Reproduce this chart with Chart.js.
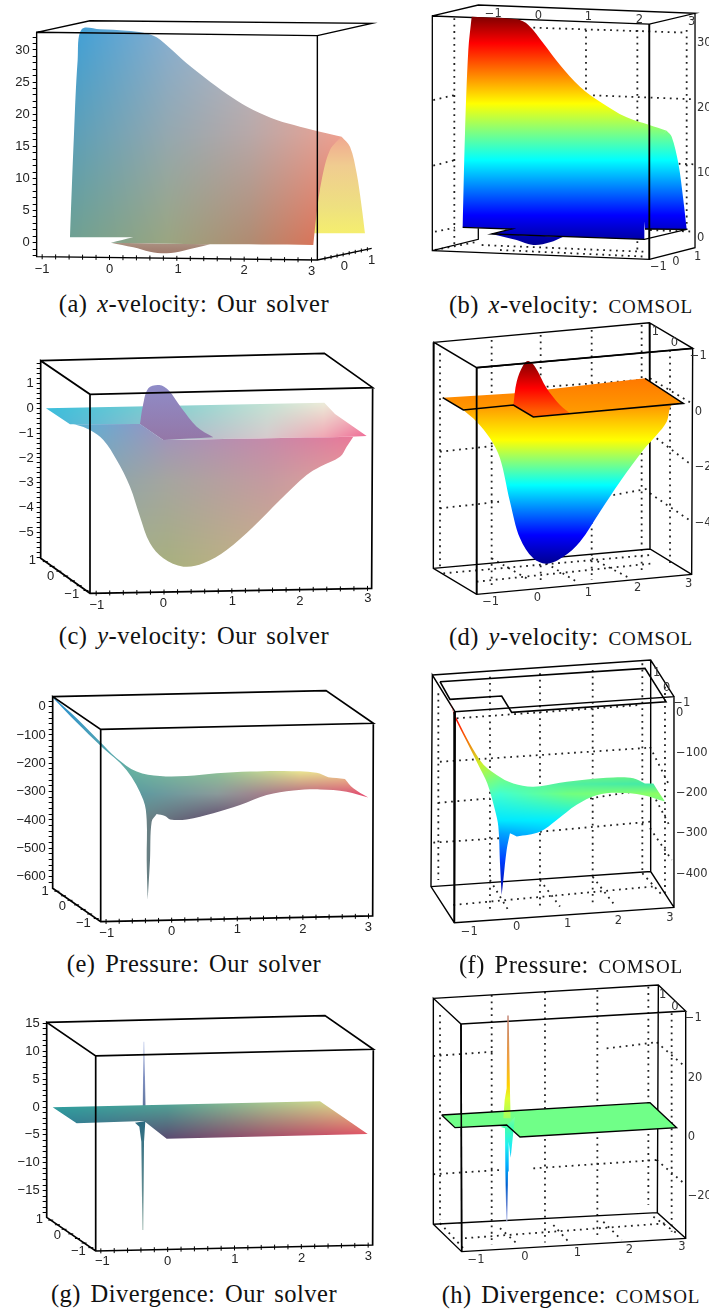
<!DOCTYPE html>
<html>
<head>
<meta charset="utf-8">
<script src="https://cdn.jsdelivr.net/npm/chart.js@4/dist/chart.umd.min.js"></script>
<style>
  body { margin: 0; background: #fff; width: 709px; height: 1311px; overflow: hidden; position: relative; }
  canvas { position: absolute; }
  .cap {
    position: absolute; transform: translateX(-50%); white-space: nowrap; color: #111;
    font-family: "Liberation Serif", serif; font-size: 24.5px; line-height: 26px; word-spacing: 3px; letter-spacing: 0.5px;
  }
  .sc { font-variant: all-small-caps; font-size: 27px; letter-spacing: 0.9px; }
</style>
</head>
<body>
<canvas id="chartA"></canvas><canvas id="chartB"></canvas>
<canvas id="chartC"></canvas><canvas id="chartD"></canvas>
<canvas id="chartE"></canvas><canvas id="chartF"></canvas>
<canvas id="chartG"></canvas><canvas id="chartH"></canvas>
<div class="cap" style="left:194px;top:291px">(a) <i>x</i>-velocity: Our solver</div>
<div class="cap" style="left:571px;top:291px">(b) <i>x</i>-velocity: <span class="sc">COMSOL</span></div>
<div class="cap" style="left:194px;top:623px">(c) <i>y</i>-velocity: Our solver</div>
<div class="cap" style="left:571px;top:623px">(d) <i>y</i>-velocity: <span class="sc">COMSOL</span></div>
<div class="cap" style="left:194px;top:951px">(e) Pressure: Our solver</div>
<div class="cap" style="left:571px;top:951px">(f) Pressure: <span class="sc">COMSOL</span></div>
<div class="cap" style="left:194px;top:1281px">(g) Divergence: Our solver</div>
<div class="cap" style="left:571px;top:1281px">(h) Divergence: <span class="sc">COMSOL</span></div>
<script>
// values, x = projected x unit, y = value on the panel's vertical axis

// (a) x-velocity, our solver
const aSheetX = [-0.587,-0.527,-0.473,-0.413,-0.141,0.255,0.502,0.7,0.899,1.146,1.493,1.839,2.136,2.483,2.829,3.126,3.448,3.275,3.151,3.077,3.027,1.493,0.022,0.354,-0.587];
const aSheetY = [0.93,17.02,28.44,33.21,33.21,33,32.69,31.97,30.25,27.92,25.06,22.47,20.65,19.1,18.06,17.28,16.5,14.43,9.76,4.57,-0.36,-0.26,0,0.83,0.83];
const aEndX = [3.448,3.572,3.671,3.745,3.794,3,3.05,3.15,3.27];
const aEndY = [16.5,14.95,10.79,5.6,1.45,1.45,5.6,11.83,14.95];
const aBumpX = [0.022,0.354,0.601,0.849,1.097,1.493];
const aBumpY = [0,-0.73,-1.4,-1.66,-1.25,-0.26];
const aBoxX = [-1.082,-0.29,3.894,3.087,-1.082,-1.082,3.087,3.087,null,3.087,3.894];
const aBoxY = [32.75,34.56,34.15,32.23,32.75,-2.18,-2.7,32.23,null,-2.7,-0.88];
const aYMajor = [0,5,10,15,20,25,30];
const aLabelX = [-1,0,1.02,2,3,3.487,3.893];
const aLabelY = [-4.15,-4.15,-4.15,-4.36,-4.51,-3.63,-2.7];
const aLabelText = ["−1","0","1","2","3","0","1"];

// (b) x-velocity, COMSOL
const bSheetX = [-1.557,-1.51,-1.443,-1.376,-0.47,-0.235,0.067,0.403,0.805,1.208,1.745,2.201,2.55,2.383,2.215,2.114,2.101,-0.973,-0.57];
const bSheetY = [1.64,16.13,28.97,34.1,33.69,32.82,29.99,26.66,23.32,21.01,18.59,17.41,16.54,15.1,9.96,5.86,-0.21,0.62,1.39];
const bEndX = [2.55,2.651,2.785,2.886,2.953,2.114,2.05,2.1,2.3];
const bEndY = [16.54,15.61,11.5,5.86,1.34,1.39,5.86,9.96,15.1];
const bBumpX = [-0.973,-0.47,-0.134,0.201,0.47];
const bBumpY = [0.62,-0.31,-1.08,-0.67,0.21];
const bEdgeX = [-1.557,-0.57,-0.973,2.101,2.953,null,2.114,2.953];
const bEdgeY = [1.64,1.39,0.62,-0.21,1.34,null,1.39,1.34];
const bBoxX = [-2.168,-1.242,3.121,2.201,-2.168,-2.168,2.201,2.201,null,2.201,3.121,3.121,null,-2.168,-1.242,-1.242];
const bBoxY = [34.21,35.9,34.62,32.97,34.21,-1.95,-3.29,32.97,null,-3.29,-1.49,34.62,null,-1.95,-0.21,1.49];
const bGridX = [-1.725,-1.725,null,0.926,0.926,null,1.96,1.96,null,-0.134,2.953,null,-2.148,-1.711,null,-2.148,-1.711,null,-2.114,-1.711,null,0.94,3.087,null,2.148,3.121,null,2.215,3.087,null,2.953,2.953,null,-2.114,-1.242,null,-1.174,2.081,null,-0.805,2.148];
const bGridY = [33.85,-1.34,null,32.05,-0.31,null,32.05,-2.36,null,32.41,31.64,null,21.26,22.03,null,11.15,12.02,null,0.98,1.59,null,22.03,21.37,null,11.61,11.35,null,1.23,0.98,null,32.05,1.23,null,-1.85,-0.56,null,-1.08,-2.11,null,-1.85,-2.88];
const bYMajor = [0,10,20,30];
const bLabelX = [-0.94,-0.034,0.973,2,3.054,2.383,2.738,3.174];
const bLabelY = [34.5,34.26,34.1,33.59,33.33,-4.42,-3.75,-2.98];
const bLabelText = ["−1","0","1","2","3","−1","0","1"];

// (c) y-velocity, our solver
const cPlaneX = [-1.74,2.364,2.521,2.988,2.742,-0.01,-0.354,-1.386];
const cPlaneY = [0,0.228,-0.228,-1.114,-1.141,-1.275,-0.631,-0.644];
const cBumpX = [-0.354,-0.314,-0.231,-0.069,0.064,0.26,0.482,0.727,-0.01];
const cBumpY = [-0.631,0.067,0.805,0.94,0.738,0,-0.738,-1.168,-1.275];
const cLobeX = [-1.386,-1.287,-1.091,-0.894,-0.698,-0.501,-0.354,-0.206,-0.01,0.285,0.58,0.924,1.317,1.71,2.103,2.3,2.595,2.693,2.791,-0.01,-0.354];
const cLobeY = [-0.644,-0.671,-0.872,-1.275,-2.081,-3.154,-4.362,-5.436,-6.04,-6.376,-6.242,-5.705,-4.765,-3.691,-2.685,-2.349,-1.946,-1.544,-1.141,-1.275,-0.631];
const cBoxX = [-1.818,2.364,3.076,-1.091,-1.818,-1.818,-1.091,3.061,3.076,null,-1.091,-1.091];
const cBoxY = [1.919,2.215,0.832,0.564,1.919,-6.04,-7.45,-7.25,0.832,null,0.564,-7.45];
const cYMajor = [1,0,-1,-2,-3,-4,-5];
const cLabelX = [-0.99,-0.01,1.007,2.004,3.007,-1.94,-1.67,-1.36];
const cLabelY = [-7.92,-7.85,-7.79,-7.76,-7.65,-6.13,-6.78,-7.48];
const cLabelText = ["−1","0","1","2","3","1","0","−1"];

// (d) y-velocity, COMSOL
const dPlaneX = [-1.946,-0.49,2.128,2.899,-0.121,-0.523,-1.53];
const dPlaneY = [0.504,0.659,1.199,0.3,-0.192,0.24,0.06];
const dBumpX = [-0.523,-0.456,-0.322,-0.221,-0.087,0.148,0.416,0.617,-0.121];
const dBumpY = [0.24,1.079,1.679,1.823,1.619,0.839,0.24,-0.06,-0.192];
const dLobeX = [-1.53,-1.262,-0.993,-0.792,-0.591,-0.389,-0.121,0.148,0.483,0.819,1.221,1.624,2.094,2.362,2.564,2.664,2.899,-0.121,-0.523];
const dLobeY = [0.06,-0.36,-0.959,-1.679,-3.237,-4.556,-5.276,-5.468,-5.216,-4.676,-3.597,-2.518,-1.379,-0.839,-0.36,0.24,0.3,-0.192,0.24];
const dEdgeX = [-1.946,-1.53,-0.523,-0.121,2.899,2.128];
const dEdgeY = [0.504,0.06,0.24,-0.192,0.3,1.199];
const dBoxX = [-2.121,2.215,3.087,-1.262,-2.121,-2.134,-1.262,3.067,3.087,null,-1.262,-1.262,null,-2.134,2.228,3.067,null,2.215,2.228];
const dBoxY = [2.494,3.201,2.278,1.583,2.494,-5.635,-6.571,-5.851,2.278,null,1.583,-6.571,null,-5.635,-4.94,-5.851,null,3.201,-4.94];
const dGridX = [-2,-2,null,-0.96,-0.96,null,0.027,0.027,null,1.054,1.054,null,2.06,2.06,null,2.631,2.631,null,-2,-0.859,null,-2,-0.792,null,0.148,2.027,null,2.228,3.067,null,2.362,3.067,null,1.49,2.228,null,2.228,3.067,null,-1.933,2.228,null,-1.262,2.295,null,-0.96,-0.255,null,0.027,0.752,null,1.054,1.826];
const dGridY = [2.098,-5.695,null,2.578,-6.355,null,2.758,-6.115,null,2.938,-6.055,null,3.118,-5.815,null,2.218,-5.576,null,-1.439,-1.223,null,-3.477,-3.237,null,0.899,1.139,null,1.199,0.3,null,-0.959,-1.918,null,-2.998,-2.758,null,-2.938,-3.957,null,-5.815,-5.156,null,-6.115,-5.456,null,-5.276,-5.995,null,-5.336,-6.115,null,-5.276,-5.995];
const dYMajor = [0,-2,-4];
const dLabelX = [-0.98,-0.04,0.987,1.98,3.007,2.336,2.718,3.2];
const dLabelY = [-6.835,-6.691,-6.511,-6.355,-6.187,2.854,2.458,2.018];
const dLabelText = ["−1","0","1","2","3","1","0","−1"];

// (e) pressure, our solver
const eSurfX = [-1.804,-1.448,-1.092,-0.838,-0.534,-0.178,0.229,0.686,1.194,1.702,2.21,2.388,2.642,2.769,2.998,2.668,2.261,1.855,1.448,1.042,0.635,0.229,-0.025,-0.102,-0.229,-0.305,-0.33,-0.366,-0.381,-0.381,-0.432,-0.686,-1.092,-1.448,-1.804];
const eSurfY = [33,-41,-124,-182,-229,-245,-245,-235,-229,-227,-233,-249,-255,-288,-321,-300,-292,-296,-312,-347,-376,-398,-398,-386,-379,-406,-541,-682,-541,-400,-329,-224,-136,-56,30];
const eBoxX = [-1.814,2.353,3.074,-1.082,-1.814,-1.814,-1.082,3.064,3.074,null,-1.082,-1.082];
const eBoxY = [35.3,56.5,-58.8,-80,35.3,-641.2,-758.8,-738.8,-58.8,null,-80,-758.8];
const eYMajor = [0,-100,-200,-300,-400,-500,-600];
const eLabelX = [-0.99,0,1,2,3,-1.931,-1.667,-1.346];
const eLabelY = [-800,-794,-788,-786,-779,-653,-704,-765];
const eLabelText = ["−1","0","1","2","3","1","0","−1"];

// (f) pressure, COMSOL
const fSurfX = [-1.367,-1.267,-0.767,-0.433,-0.1,0.3,0.833,1.367,1.9,2.3,2.533,2.7,2.8,2.933,2.5,1.967,1.567,1.167,0.767,0.433,-0.033,-0.167,-0.233,-0.3,-0.333,-0.367,-0.4,-0.467,-0.62,-0.8,-1.267];
const fSurfY = [27,-6,-118,-155,-176,-184,-174,-166,-161,-163,-176,-176,-196,-221,-205,-199,-205,-229,-267,-296,-308,-300,-341,-416,-453,-374,-283,-242,-176,-130,-14];
const fPlaneX = [-1.567,2.533,2.953,-0.133,-0.333,-1.367,-1.567];
const fPlaneY = [77,110.2,27.3,0.8,41.4,33.1,77];
const fBoxX = [-1.72,2.647,3.113,-1.267,-1.72,-1.747,-1.28,3.113,3.113,null,-1.267,-1.28,null,-1.747,2.647,3.113,null,2.647,2.647];
const fBoxY = [93.6,130.9,39.8,2.5,93.6,-432.5,-522,-484,39.8,null,2.5,-522,null,-432.5,-395,-484,null,130.9,-395];
const fGridX = [-1.6,-1.6,null,-0.567,-0.567,null,0.433,0.433,null,1.487,1.487,null,2.48,2.48,null,2.933,2.933,null,-1.233,2.433,null,-1.567,2.633,null,-1.6,-0.567,null,1.433,2.633,null,-1.7,-0.367,null,0.433,2.633,null,2.633,3.033,null,2.633,3.033,null,2.633,3.067,null,-1.3,2.7,null,-0.567,-0.2,null,0.433,0.833,null,1.487,1.9,null,2.48,2.9];
const fGridY = [48,-416,null,89.5,-499,null,97.8,-482,null,106,-482,null,122.6,-391,null,64.6,-457,null,-14,19,null,-122,-87,null,-224,-213,null,-213,-190,null,-323,-312,null,-296,-271,null,-85,-184,null,-188,-283,null,-287,-366,null,-478,-432,null,-416,-491,null,-416,-482,null,-408,-474,null,-399,-457];
const fYMajor = [0,-100,-200,-300,-400];
const fLabelX = [-0.98,-0.033,0.987,2,3.033,2.767,2.967,3.27];
const fLabelY = [-544,-534,-526,-519,-511,99.4,60.5,23.2];
const fLabelText = ["−1","0","1","2","3","1","0","−1"];

// (g) divergence, our solver
const gPlaneX = [-1.721,2.279,2.993,-0.015,-0.354,-1.362];
const gPlaneY = [-0.06,1.02,-4.84,-5.68,-2.51,-2.93];
const gUpX = [-0.374,-0.364,-0.349,-0.329,-0.289];
const gUpY = [-1.73,11.72,11.72,-1.43,-2.03];
const gDownX = [-0.489,-0.424,-0.394,-0.379,-0.364,-0.354,-0.334];
const gDownY = [-2.81,-3.53,-6.22,-22.06,-22.06,-6.22,-2.51];
const gBoxX = [-1.81,2.354,3.077,-1.077,-1.81,-1.81,-1.077,3.067,3.077,null,-1.077,-1.077];
const gBoxY = [15.18,16.38,10.34,9.15,15.18,-19.79,-25.82,-24.75,10.34,null,9.15,-25.82];
const gYMajor = [15,10,5,0,-5,-10,-15];
const gLabelX = [-0.978,0,1.007,2.005,3.002,-1.92,-1.65,-1.337];
const gLabelY = [-27.7,-27.7,-27.4,-27.1,-26.84,-20.08,-23.07,-25.94];
const gLabelText = ["−1","0","1","2","3","1","0","−1"];

// (h) divergence, COMSOL
const hPlaneX = [-1.622,2.385,2.897,-0.115,-0.372,-1.365];
const hPlaneY = [7.5,11.7,3.18,0,4.09,3.18];
const hUpX = [-0.359,-0.333,-0.308,-0.295,-0.436,-0.41,-0.372];
const hUpY = [41.4,41.4,15.45,6.36,6.36,12.6,16.6];
const hDownX = [-0.5,-0.404,-0.397,-0.378,-0.359,-0.346,-0.333,-0.295,-0.256,-0.212,-0.359];
const hDownY = [3.52,2.95,-11.8,-28.9,-28.9,-11.8,-1.59,-7.05,-0.45,6.93,4.09];
const hEdgeX = [-1.622,2.385,2.897,-0.115,-0.372,-1.365,-1.622];
const hEdgeY = [7.5,11.7,3.18,0,4.09,3.18,7.5];
const hBoxX = [-1.782,2.545,3.071,-1.25,-1.782,-1.782,-1.237,3.071,3.071,null,-1.25,-1.237,null,-1.782,2.526,3.071,null,2.545,2.526];
const hBoxY = [47.27,51.82,42.95,38.52,47.27,-29.77,-39.09,-34.55,42.95,null,38.52,-39.09,null,-29.77,-25.8,-34.55,null,51.82,-25.8];
const hGridX = [-1.654,-1.654,null,-0.66,-0.66,null,0.365,0.365,null,1.372,1.372,null,2.353,2.353,null,2.801,2.801,null,-1.782,-0.628,null,1.551,2.513,null,2.513,3.058,null,-1.782,-0.5,null,0.141,2.513,null,2.513,3.058,null,-1.654,-1.205,null,-1.173,2.705,null,-0.5,-0.179,null,0.526,0.846,null,1.487,1.84,null,2.449,2.897];
const hGridY = [41.6,-28.3,null,48.4,-36.8,null,49.5,-36,null,50.1,-34.5,null,51.25,-23.2,null,42.2,-32.3,null,27.6,29.1,null,30.2,32.3,null,32.3,24,null,-12.7,-11.25,null,-10.7,-7.84,null,-7.84,-16.1,null,-29.4,-37.95,null,-34.5,-29.4,null,-31.1,-36.25,null,-30,-36.25,null,-28.9,-35.1,null,-27.2,-32.8];
const hYMajor = [20,0,-20];
const hLabelX = [-0.962,-0.019,0.987,1.987,3,2.628,2.865,3.218];
const hLabelY = [-41.9,-40.8,-39.7,-38.5,-37.6,48.4,44.4,40.45];
const hLabelText = ["−1","0","1","2","3","1","0","−1"];

const zip = (xs, ys) => xs.map((x, i) => ({ x: x, y: ys[i] }));

function tickRange(from, to, step) {
  let out = [];
  for (let v = from; v <= to + step / 100; v += step) out.push(Math.round(v * 1000) / 1000);
  return out;
}

// ticks sitting on a slanted box edge
function edgeTicks(xs, edge) {
  return xs.map((x) => ({ x: x, y: edge[1] + (edge[3] - edge[1]) * (x - edge[0]) / (edge[2] - edge[0]) }));
}

function hexRgb(h) {
  return [parseInt(h.slice(1, 3), 16), parseInt(h.slice(3, 5), 16), parseInt(h.slice(5, 7), 16)];
}

// vertical colour ramp, stops are [value, colour]
function ramp(stops) {
  return function (c) {
    const chart = c.chart;
    if (!chart.chartArea) return "transparent";
    const y0 = chart.scales.y.getPixelForValue(stops[0][0]);
    const y1 = chart.scales.y.getPixelForValue(stops[stops.length - 1][0]);
    const g = chart.ctx.createLinearGradient(0, y0, 0, y1);
    stops.forEach((s) => {
      g.addColorStop((chart.scales.y.getPixelForValue(s[0]) - y0) / (y1 - y0), s[1]);
    });
    return g;
  };
}

function findCell(list, v) {
  if (v <= list[0]) return [0, 0];
  for (let i = 0; i < list.length - 1; i++) {
    if (v <= list[i + 1]) return [i, (v - list[i]) / (list[i + 1] - list[i])];
  }
  return [list.length - 2, 1];
}

// colour grid painted bilinearly, the surface is filled with it as a pattern
function mesh(xs, ys, colours) {
  const rgb = colours.map((row) => row.map(hexRgb));
  let cached = null;
  return function (c) {
    const chart = c.chart;
    if (!chart.chartArea) return "transparent";
    if (cached) return cached;
    const w = chart.width, h = chart.height;
    const px = xs.map((v) => chart.scales.x.getPixelForValue(v));
    const py = ys.map((v) => chart.scales.y.getPixelForValue(v));
    const off = document.createElement("canvas");
    off.width = w; off.height = h;
    const octx = off.getContext("2d");
    const img = octx.createImageData(w, h);
    for (let j = 0; j < h; j++) {
      const [r, fy] = findCell(py, j);
      for (let i = 0; i < w; i++) {
        const [q, fx] = findCell(px, i);
        const k = (j * w + i) * 4;
        for (let n = 0; n < 3; n++) {
          const top = rgb[r][q][n] * (1 - fx) + rgb[r][q + 1][n] * fx;
          const bot = rgb[r + 1][q][n] * (1 - fx) + rgb[r + 1][q + 1][n] * fx;
          img.data[k + n] = top * (1 - fy) + bot * fy;
        }
        img.data[k + 3] = 255;
      }
    }
    octx.putImageData(img, 0, 0);
    cached = chart.ctx.createPattern(off, "no-repeat");
    return cached;
  };
}

// corners = indexes kept sharp (a doubled point stops the curve there), the rest is smoothed
function surface(xs, ys, paint, corners) {
  let pts = [];
  xs.forEach((x, i) => {
    pts.push({ x: x, y: ys[i] });
    if (corners && corners.includes(i)) pts.push({ x: x, y: ys[i] });
  });
  return { data: pts, showLine: true, fill: "shape", backgroundColor: paint, borderColor: "transparent", borderWidth: 0, pointRadius: 0, clip: false, tension: corners ? 0.35 : 0 };
}

function line(xs, ys, width) {
  return { data: zip(xs, ys), showLine: true, fill: false, borderColor: "#000", borderWidth: width, pointRadius: 0, clip: false, spanGaps: false };
}

function dotted(xs, ys) {
  return { data: zip(xs, ys), showLine: true, fill: false, borderColor: "#222", borderWidth: 1.8, borderDash: [1.8, 4.6], pointRadius: 0, clip: false, spanGaps: false };
}

function tickMarks(points, rotation, radius) {
  return { data: points, showLine: false, pointStyle: "line", pointRotation: rotation, pointRadius: radius, pointBorderColor: "#000", pointBorderWidth: 1, clip: false };
}

// text that has to follow a slanted axis
const axisText = {
  id: "axisText",
  afterDraw(chart, args, opts) {
    const ctx = chart.ctx;
    ctx.save();
    ctx.font = opts.font;
    ctx.fillStyle = opts.color;
    ctx.textAlign = "center";
    ctx.textBaseline = "middle";
    opts.text.forEach((t, i) => {
      ctx.fillText(t, chart.scales.x.getPixelForValue(opts.x[i]), chart.scales.y.getPixelForValue(opts.y[i]));
    });
    ctx.restore();
  },
};

function makePanel(p) {
  const el = document.getElementById(p.id);
  const left = p.side === "left";
  const cLeft = left ? 0 : 400, cWidth = left ? 385 : 309;
  el.style.left = cLeft + "px";
  el.style.top = p.top + "px";
  el.width = cWidth;
  el.height = p.height;

  const areaLeft = left ? p.axisPx : cLeft;
  const areaRight = left ? cLeft + cWidth : p.axisPx;
  const axisWidth = left ? p.axisPx - cLeft : cLeft + cWidth - p.axisPx;
  const fontSans = left ? "Liberation Sans" : "DejaVu Sans";
  const fontSize = left ? 13 : 11.5;
  const textColor = left ? "#222" : "#333";

  const ticksList = left ? tickRange(p.yMinor[0], p.yMinor[1], p.yMinor[2]) : p.yMajor;

  new Chart(el, {
    type: "scatter",
    data: { datasets: p.layers.slice().reverse() },
    plugins: [axisText],
    options: {
      responsive: false,
      animation: false,
      events: [],
      layout: { autoPadding: false, padding: 0 },
      plugins: {
        legend: { display: false },
        tooltip: { enabled: false },
        axisText: { x: p.labelX, y: p.labelY, text: p.labelText, font: fontSize + "px '" + fontSans + "'", color: textColor },
      },
      scales: {
        x: {
          type: "linear",
          display: false,
          min: (areaLeft - p.x0) / p.xk,
          max: (areaRight - p.x0) / p.xk,
        },
        y: {
          type: "linear",
          position: left ? "left" : "right",
          min: (p.y0 - (p.top + p.height)) / p.yk,
          max: (p.y0 - p.top) / p.yk,
          afterFit(s) {
            // fixed axis box so the value mapping stays exact
            s.width = axisWidth;
            s.paddingTop = 0;
            s.paddingBottom = 0;
          },
          afterBuildTicks(s) { s.ticks = ticksList.map((v) => ({ value: v })); },
          border: { display: false },
          grid: { display: left, drawOnChartArea: false, drawTicks: left, tickLength: 4, tickColor: "#000", tickWidth: 1 },
          ticks: {
            autoSkip: false,
            maxRotation: 0,
            padding: left ? 3 : 2,
            color: textColor,
            font: { family: fontSans, size: fontSize },
            callback(v) {
              if (!p.yMajor.includes(v)) return "";
              return String(v).replace("-", "−");
            },
          },
        },
      },
    },
  });
}

const jetB = ramp([[34.1, "#800000"], [30, "#ff0000"], [20.7, "#ffff00"], [12, "#00ffff"], [3.5, "#0000ff"], [-1.1, "#000090"]]);

makePanel({
  id: "chartA", side: "left", top: 0, height: 285, axisPx: 36.67,
  x0: 109.5, xk: 67.33, y0: 242.67, yk: 6.423,
  yMajor: aYMajor, yMinor: [-2, 32, 1],
  labelX: aLabelX, labelY: aLabelY, labelText: aLabelText,
  layers: [
    surface(aEndX, aEndY, ramp([[16.5, "#f0a890"], [12, "#f0cc90"], [5.6, "#eee080"], [1.45, "#f5ee6e"]]), [0, 4, 5]),
    surface(aBumpX, aBumpY, ramp([[0, "#ab9282"], [-1.66, "#a07a6c"]]), [0, 5]),
    surface(aSheetX, aSheetY, mesh([-0.587, 0.849, 2.086, 3.448], [33.1, 17, -0.36], [
      ["#3d9fd6", "#85aed0", "#b8bcc8", "#f2b0a0"],
      ["#5a9fb8", "#94a8b0", "#b8a8a8", "#eea090"],
      ["#6fa090", "#9aa580", "#b08a70", "#ea6a4f"],
    ]), [0, 16, 20, 21, 22, 23, 24]),
    tickMarks(edgeTicks(tickRange(-1, 3, 0.2), [-1.082, -2.18, 3.087, -2.7]), 90, 2.5),
    tickMarks(edgeTicks([3.2, 3.29, 3.38, 3.47, 3.56, 3.65, 3.74, 3.83], [3.087, -2.7, 3.894, -0.88]), 90, 2),
    line(aBoxX, aBoxY, 1.4),
  ],
});

makePanel({
  id: "chartB", side: "right", top: 0, height: 285, axisPx: 695,
  x0: 540, xk: 49.67, y0: 238, yk: 6.49,
  yMajor: bYMajor,
  labelX: bLabelX, labelY: bLabelY, labelText: bLabelText,
  layers: [
    dotted(bGridX, bGridY),
    line(bBoxX, bBoxY, 1.3),
    surface(bEndX, bEndY, jetB, [0, 4, 5]),
    surface(bBumpX, bBumpY, jetB, [0, 4]),
    surface(bSheetX, bSheetY, jetB, [0, 3, 12, 16, 17, 18]),
    line(bEdgeX, bEdgeY, 1.3),
    line([2.201, 2.201], [32.97, -3.29], 1.8),
  ],
});

makePanel({
  id: "chartC", side: "left", top: 320, height: 295, axisPx: 40.67,
  x0: 164, xk: 67.83, y0: 408.33, yk: 24.83,
  yMajor: cYMajor, yMinor: [-6, 1.8, 0.2],
  labelX: cLabelX, labelY: cLabelY, labelText: cLabelText,
  layers: [
    surface(cPlaneX, cPlaneY, mesh([-1.74, -0.01, 1.513, 2.349, 2.988], [0.2, -1.275], [
      ["#38c0dc", "#7ed0d0", "#c4e2d4", "#ecead8", "#f5c8c8"],
      ["#48b0d8", "#a8b8c8", "#d8c8cc", "#f0a0b0", "#ee6090"],
    ])),
    surface(cBumpX, cBumpY, ramp([[0.94, "#8f8cc8"], [-1.2, "#9478a8"]]), [0, 7, 8]),
    surface(cLobeX, cLobeY, mesh([-1.386, 0.039, 1.513, 2.791], [-0.671, -2.886, -6.376], [
      ["#55b5d5", "#a090c0", "#c585ac", "#ea6e98"],
      ["#7fa5b0", "#a5a5a0", "#c49aa0", "#e8a09a"],
      ["#a5b090", "#a8b07e", "#c8b288", "#e0b090"],
    ]), [0, 18, 19, 20]),
    tickMarks(edgeTicks(tickRange(-1, 3, 0.2), [-1.091, -7.45, 3.061, -7.25]), 90, 2.5),
    tickMarks(edgeTicks([-1.75, -1.65, -1.55, -1.45, -1.35, -1.25, -1.15], [-1.818, -6.04, -1.091, -7.45]), 0, 2.5),
    line(cBoxX, cBoxY, 1.7),
  ],
});

makePanel({
  id: "chartD", side: "right", top: 320, height: 295, axisPx: 692.67,
  x0: 539.33, xk: 49.67, y0: 411.67, yk: 27.8,
  yMajor: dYMajor,
  labelX: dLabelX, labelY: dLabelY, labelText: dLabelText,
  layers: [
    dotted(dGridX, dGridY),
    line(dBoxX, dBoxY, 1.4),
    surface(dPlaneX, dPlaneY, ramp([[1.199, "#ff7800"], [-0.192, "#ffa000"]])),
    surface(dBumpX, dBumpY, ramp([[1.823, "#800000"], [0.839, "#ff0000"], [0, "#ff6000"]]), [0, 7, 8]),
    surface(dLobeX, dLobeY, ramp([[0.3, "#ff9000"], [-1.02, "#ffff00"], [-2.64, "#00ffff"], [-4.44, "#0000ff"], [-5.47, "#000090"]]), [0, 16, 17, 18]),
    line(dEdgeX, dEdgeY, 1.5),
    line([-1.262, -1.262, null, -1.262, 3.087], [1.583, -6.571, null, 1.583, 2.278], 1.8),
  ],
});

makePanel({
  id: "chartE", side: "left", top: 655, height: 295, axisPx: 52.67,
  x0: 171.67, xk: 65.6, y0: 706.67, yk: 0.2833,
  yMajor: eYMajor, yMinor: [-620, 20, 20],
  labelX: eLabelX, labelY: eLabelY, labelText: eLabelText,
  layers: [
    surface(eSurfX, eSurfY, mesh([-1.804, -0.584, 0.686, 1.956, 2.998], [-229, -306, -400], [
      ["#2a90d0", "#68b0a0", "#8cc098", "#e8e090", "#f0d090"],
      ["#2a90d0", "#5a9aa0", "#8a9a9a", "#b86c80", "#e85070"],
      ["#6a9088", "#6a8a88", "#604a6c", "#805070", "#e85070"],
    ]), [0, 11, 12, 14, 24, 27]),
    tickMarks(edgeTicks(tickRange(-1, 3, 0.2), [-1.082, -758.8, 3.064, -738.8]), 90, 2.5),
    tickMarks(edgeTicks([-1.75, -1.65, -1.55, -1.45, -1.35, -1.25, -1.15], [-1.814, -641.2, -1.082, -758.8]), 0, 2.5),
    line(eBoxX, eBoxY, 1.7),
  ],
});

makePanel({
  id: "chartF", side: "right", top: 655, height: 295, axisPx: 674,
  x0: 518.33, xk: 50, y0: 712.67, yk: 0.4023,
  yMajor: fYMajor,
  labelX: fLabelX, labelY: fLabelY, labelText: fLabelText,
  layers: [
    dotted(fGridX, fGridY),
    line(fBoxX, fBoxY, 1.4),
    surface(fSurfX, fSurfY, mesh([-1.267, -0.367, 0.967, 2.967], [-10, -126, -176, -200.5, -267, -300, -366, -453], [
      ["#ff0000", "#ff0000", "#ff0000", "#ff0000"],
      ["#ffe000", "#a0ff50", "#a0ff50", "#a0ff50"],
      ["#a0ff50", "#60ffa0", "#50f0a0", "#40e8a8"],
      ["#80ff80", "#40ffd0", "#70ff80", "#90ff60"],
      ["#00e8ff", "#00e8ff", "#00f0ff", "#40ffc0"],
      ["#00a0ff", "#00a0ff", "#00d0ff", "#20ffe0"],
      ["#0040ff", "#0040ff", "#0040ff", "#0040ff"],
      ["#0000a0", "#0000a0", "#0000a0", "#0000a0"],
    ]), [0, 10, 11, 13, 20, 21, 24]),
    line(fPlaneX, fPlaneY, 1.6),
    line([-1.267, -1.28], [2.5, -522], 1.8),
  ],
});

makePanel({
  id: "chartG", side: "left", top: 980, height: 295, axisPx: 46.67,
  x0: 167.67, xk: 66.83, y0: 1107, yk: 5.577,
  yMajor: gYMajor, yMinor: [-19, 15, 1],
  labelX: gLabelX, labelY: gLabelY, labelText: gLabelText,
  layers: [
    surface(gUpX, gUpY, ramp([[11.72, "#d0d8f0"], [5, "#8090c0"], [-2, "#506a90"]])),
    surface(gPlaneX, gPlaneY, mesh([-1.721, -0.015, 1.481, 2.993], [1.02, -5.68], [
      ["#30a5a0", "#50a898", "#a8c890", "#f0e088"],
      ["#2a6a90", "#5a4a70", "#a04a68", "#e04060"],
    ])),
    surface(gDownX, gDownY, ramp([[-2.5, "#2a6a80"], [-15, "#5f8a90"], [-22, "#a8c0b8"]])),
    tickMarks(edgeTicks(tickRange(-1, 3, 0.2), [-1.077, -25.82, 3.067, -24.75]), 90, 2.5),
    tickMarks(edgeTicks([-1.75, -1.65, -1.55, -1.45, -1.35, -1.25, -1.15], [-1.81, -19.79, -1.077, -25.82]), 0, 2.5),
    line(gBoxX, gBoxY, 1.7),
  ],
});

makePanel({
  id: "chartH", side: "right", top: 980, height: 295, axisPx: 685.67,
  x0: 526, xk: 52, y0: 1137, yk: 2.933,
  yMajor: hYMajor,
  labelX: hLabelX, labelY: hLabelY, labelText: hLabelText,
  layers: [
    dotted(hGridX, hGridY),
    line(hBoxX, hBoxY, 1.4),
    surface(hPlaneX, hPlaneY, () => "#70ff88"),
    surface(hDownX, hDownY, ramp([[7, "#80ffa0"], [3, "#40ffb0"], [-2.7, "#20f0f0"], [-9.5, "#00b0ff"], [-16.4, "#0060d0"], [-23, "#6080d0"], [-28.9, "#c0c8f0"]])),
    surface(hUpX, hUpY, ramp([[41.4, "#c08070"], [26.8, "#f0a040"], [17.7, "#ffd000"], [13.2, "#e0ff30"], [6.4, "#a0ff60"]])),
    line(hEdgeX, hEdgeY, 1.3),
    line([-1.25, -1.237], [38.52, -39.09], 1.6),
  ],
});
</script>
</body>
</html>
